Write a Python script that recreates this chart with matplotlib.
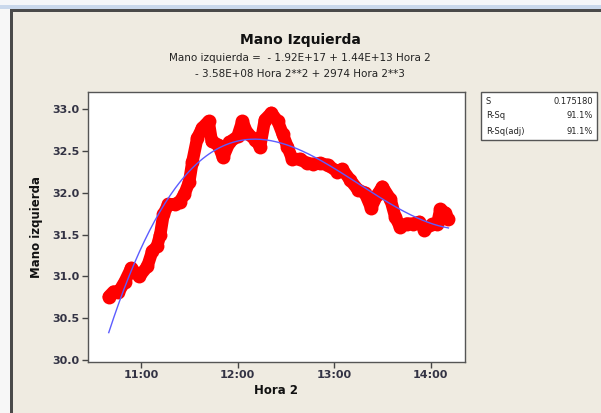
import numpy as np
import matplotlib
matplotlib.use("Agg")
import matplotlib.pyplot as plt
from matplotlib.patches import Rectangle
from matplotlib.ticker import FuncFormatter

# valores (Hora 2, Mano izquierda)
hora = ["10:40", "10:43", "10:46", "10:50", "10:54", "10:59", "11:04", "11:07",
        "11:10", "11:12", "11:14", "11:17", "11:21", "11:24", "11:27", "11:30",
        "11:32", "11:35", "11:38", "11:42", "11:44", "11:48", "11:51", "11:55",
        "12:00", "12:03", "12:06", "12:11", "12:14", "12:17", "12:21", "12:25",
        "12:28", "12:31", "12:34", "12:39", "12:43", "12:47", "12:51", "12:56",
        "13:02", "13:05", "13:10", "13:15", "13:19", "13:23", "13:27", "13:30",
        "13:35", "13:38", "13:41", "13:45", "13:49", "13:53", "13:56", "14:01",
        "14:04", "14:06", "14:09", "14:11"]
mano = [30.76, 30.82, 30.81, 30.94, 31.10, 31.00, 31.12, 31.30,
        31.36, 31.50, 31.74, 31.86, 31.86, 31.89, 31.98, 32.13,
        32.37, 32.65, 32.77, 32.85, 32.61, 32.57, 32.42, 32.60,
        32.67, 32.85, 32.71, 32.63, 32.55, 32.87, 32.95, 32.85,
        32.70, 32.55, 32.40, 32.40, 32.35, 32.34, 32.35, 32.33,
        32.25, 32.28, 32.15, 32.03, 32.00, 31.82, 31.98, 32.07,
        31.92, 31.71, 31.59, 31.63, 31.63, 31.65, 31.56, 31.62,
        31.62, 31.80, 31.76, 31.68]

x_ticks = ["11:00", "12:00", "13:00", "14:00"]
y_ticks = [30.0, 30.5, 31.0, 31.5, 32.0, 32.5, 33.0]
stats = [("S", "0.175180"), ("R-Sq", "91.1%"), ("R-Sq(adj)", "91.1%")]


def a_horas(s):
    h, m = s.split(":")
    return int(h) + int(m) / 60.0


t = np.array([a_horas(s) for s in hora])
y = np.array(mano)

# ajuste cubico (regresion sobre los datos)
coef = np.polyfit(t, y, 3)
tf = np.linspace(t.min(), t.max(), 200)
yf = np.polyval(coef, tf)

plt.rcParams['font.family'] = ['DejaVu Sans']
bg = '#efebe1'
fig = plt.figure(figsize=(6.01, 4.13), dpi=100, facecolor=bg)

# marco de la ventana
fig.patches.append(Rectangle((0, 0), 10 / 601, 1, transform=fig.transFigure,
                             facecolor='#f7f7f7', edgecolor='none', zorder=0))
fig.patches.append(Rectangle((0, 1 - 9 / 413), 1, 9 / 413, transform=fig.transFigure,
                             facecolor='#f4f6f9', edgecolor='none', zorder=0))
fig.patches.append(Rectangle((0, 1 - 9 / 413), 1, 4 / 413, transform=fig.transFigure,
                             facecolor='#c9d8ec', edgecolor='none', zorder=0))
fig.patches.append(Rectangle((10 / 601, 1 - 11.5 / 413), 1, 2.5 / 413, transform=fig.transFigure,
                             facecolor='#4a4a4a', edgecolor='none', zorder=1))
fig.patches.append(Rectangle((10 / 601, 0), 2.5 / 601, 1 - 9 / 413, transform=fig.transFigure,
                             facecolor='#4a4a4a', edgecolor='none', zorder=1))

ax = fig.add_axes([88 / 601, 51 / 413, 377 / 601, 270 / 413])
ax.set_facecolor('white')
ax.plot(t, y, color='#ff0000', lw=9, marker='o', ms=10, mec='none',
        solid_joinstyle='round', solid_capstyle='round', zorder=2)
ax.plot(tf, yf, color='#5c5cff', lw=1, zorder=3)

ax.set_xlim(10.452, 14.355)
ax.set_ylim(29.98, 33.2)
ax.set_xticks([a_horas(s) for s in x_ticks])
ax.xaxis.set_major_formatter(FuncFormatter(lambda v, p: "%d:%02d" % (int(v), round((v % 1) * 60))))
ax.set_yticks(y_ticks)
ax.yaxis.set_major_formatter(FuncFormatter(lambda v, p: "%.1f" % v))
ax.tick_params(direction='out', length=4, width=1, color='#444444',
               labelsize=8, labelcolor='#333344', pad=2)
for lab in ax.get_xticklabels() + ax.get_yticklabels():
    lab.set_fontweight('bold')
for sp in ax.spines.values():
    sp.set_color('#555555')
    sp.set_linewidth(1)

ax.set_xlabel("Hora 2", fontsize=8.5, fontweight='bold', color='#111111', labelpad=3)
ax.set_ylabel("Mano izquierda", fontsize=8.5, fontweight='bold', color='#111111', labelpad=7)

fig.text(300 / 601, 1 - 40 / 413, "Mano Izquierda", ha='center', va='center',
         fontsize=10, fontweight='bold', color='#111111')
fig.text(300 / 601, 1 - 58 / 413, "Mano izquierda =  - 1.92E+17 + 1.44E+13 Hora 2",
         ha='center', va='center', fontsize=7.5, color='#222222')
fig.text(300 / 601, 1 - 74 / 413, "- 3.58E+08 Hora 2**2 + 2974 Hora 2**3",
         ha='center', va='center', fontsize=7.5, color='#222222')

# cuadro de estadisticos
fig.patches.append(Rectangle((481 / 601, 1 - 140 / 413), 116 / 601, 48 / 413,
                             transform=fig.transFigure, facecolor='white',
                             edgecolor='#555555', lw=1, zorder=2))
for i, (k, v) in enumerate(stats):
    yy = 1 - (101 + i * 15) / 413
    fig.text(486 / 601, yy, k, ha='left', va='center', fontsize=6, color='#222222', zorder=3)
    fig.text(593 / 601, yy, v, ha='right', va='center', fontsize=6, color='#222222', zorder=3)

fig.savefig("out.png", dpi=100, facecolor=bg)
